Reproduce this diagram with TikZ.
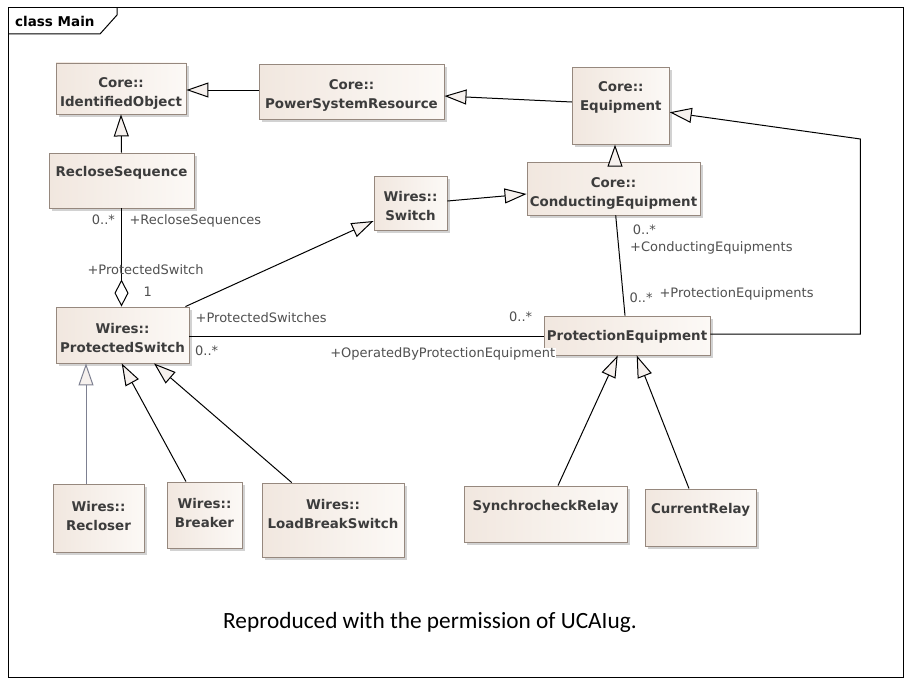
\documentclass[tikz,border=0pt]{standalone}
\usepackage{fontspec}
\setmainfont{DejaVu Sans}
\newfontfamily\capfont{Carlito}
\usetikzlibrary{arrows.meta,shadows,calc}
\definecolor{boxA}{RGB}{241,231,223}
\definecolor{boxB}{RGB}{252,249,246}
\definecolor{boxE}{RGB}{150,136,126}
\definecolor{txtC}{RGB}{60,60,60}
\definecolor{lblC}{RGB}{80,80,80}
\definecolor{triF}{RGB}{246,241,238}
\definecolor{greyL}{RGB}{125,128,145}
\tikzset{
 cls/.style={draw=boxE, line width=0.9pt, left color=boxA, right color=boxB,
   drop shadow={shadow xshift=2.5pt, shadow yshift=-2.5pt, fill=black!35, opacity=0.5}, inner sep=0},
 ctext/.style={font=\fontsize{13.4}{19}\selectfont\bfseries, text=txtC, align=center, inner sep=0},
 role/.style={font=\fontsize{13}{16}\selectfont, text=lblC, inner sep=0, anchor=west, text height=9.5pt, text depth=2.5pt},
 conn/.style={line width=1pt, draw=black},
 gen/.style={conn, -{Triangle[length=22pt,width=15pt,fill=triF,line width=1pt]}},
 geng/.style={line width=1pt, draw=greyL, -{Triangle[length=22pt,width=15pt,fill=triF,line width=1pt]}},
 agg/.style={conn, -{Diamond[length=27pt,width=14pt,fill=white,line width=1pt]}},
 frm/.style={line width=1pt, draw=black},
}
\begin{document}
\begin{tikzpicture}[x=1pt,y=-1pt]
\useasboundingbox[fill=white] (0,0) rectangle (912,685);
% frame
\node[frm, minimum width=895, minimum height=669, inner sep=0] (frame) at (455.5,342.5) {};
\draw[frm] (8,34) -- (100,34) -- (117,15) -- (117,8);
\node[font=\fontsize{13.5}{16}\selectfont\bfseries, anchor=west, inner sep=0] (title) at (15,21) {class Main};

% classes
\node[cls, minimum width=130, minimum height=51] (io) at (121,88.5) {};
\node[ctext] (io-t) at (121,93.5) {Core::\\IdentifiedObject};
\node[cls, minimum width=185, minimum height=55] (psr) at (351.5,91.5) {};
\node[ctext] (psr-t) at (351.5,95) {Core::\\PowerSystemResource};
\node[cls, minimum width=97, minimum height=77] (eq) at (620.8,105.7) {};
\node[ctext] (eq-t) at (620.8,97.8) {Core::\\Equipment};
\node[cls, minimum width=145, minimum height=55] (rs) at (121.5,180.5) {};
\node[ctext] (rs-t) at (121.5,173.3) {RecloseSequence};
\node[cls, minimum width=73, minimum height=54] (sw) at (410.5,203) {};
\node[ctext] (sw-t) at (410.5,206) {Wires::\\Switch};
\node[cls, minimum width=173, minimum height=53] (ce) at (613.5,188.5) {};
\node[ctext] (ce-t) at (613.5,193.5) {Core::\\ConductingEquipment};
\node[cls, minimum width=133, minimum height=56] (ps) at (122.5,335) {};
\node[ctext] (ps-t) at (122.5,337.5) {Wires::\\ProtectedSwitch};
\node[cls, minimum width=166, minimum height=39] (pe) at (627,335.5) {};
\node[ctext] (pe-t) at (627,337) {ProtectionEquipment};
\node[cls, minimum width=91, minimum height=68] (rec) at (98.5,518) {};
\node[ctext] (rec-t) at (98.5,515.5) {Wires::\\Recloser};
\node[cls, minimum width=75, minimum height=66] (br) at (204.5,515) {};
\node[ctext] (br-t) at (204.5,512.5) {Wires::\\Breaker};
\node[cls, minimum width=142, minimum height=74] (lbs) at (333,520) {};
\node[ctext] (lbs-t) at (333,513.5) {Wires::\\LoadBreakSwitch};
\node[cls, minimum width=163, minimum height=56] (scr) at (545.5,514) {};
\node[ctext] (scr-t) at (545.5,507) {SynchrocheckRelay};
\node[cls, minimum width=111, minimum height=57] (cr) at (700.5,517.5) {};
\node[ctext] (cr-t) at (700.5,510) {CurrentRelay};

% connectors
\draw[gen] ($(psr.west)+(0,-1.5)$) -- ($(io.east)+(0,1.5)$);
\draw[gen] ($(eq.west)+(0,-3.7)$) -- ($(psr.east)+(0,4.5)$);
\draw[gen] ($(ce.north)+(1.5,0)$) -- ($(eq.south)+(-5.8,0)$);
\draw[gen] ($(sw.east)+(0,-2)$) -- ($(ce.west)+(0,5.5)$);
\draw[gen] ($(ps.north east)+(-4,0)$) -- ($(sw.west)+(0,18)$);
\draw[gen] (rs.north) -- (io.south);
\draw[agg] (rs.south) -- (rs.south |- ps.north);
\draw[conn] ($(ps.east)+(0,1.5)$) -- ($(pe.west)+(0,1)$);
\draw[conn] ($(ce.south)+(2.2,0)$) -- ($(pe.north)+(-2,0)$);
\draw[gen] ($(pe.east)+(0,-1.5)$) -- ++(150,0) -- ++(0,-195) -- ($(eq.east)+(0,6.6)$);
\draw[geng] ($(rec.north)+(-12.5,0)$) -- ($(ps.south)+(-36.5,0)$);
\draw[gen] ($(br.north)+(-18.5,0)$) -- ($(ps.south)+(-0.8,0)$);
\draw[gen] ($(lbs.north)+(-41.3,0)$) -- ($(ps.south)+(31.5,0)$);
\draw[gen] ($(scr.north)+(12.5,0)$) -- ($(pe.south)+(-9.3,0)$);
\draw[gen] ($(cr.north)+(-11.5,0)$) -- ($(pe.south)+(9.7,0)$);

% role labels
\node[role] (l1) at (91.7,221) {0..*};
\node[role] (l2) at (129.3,221) {+RecloseSequences};
\node[role] (l3) at (87.3,270.7) {+ProtectedSwitch};
\node[role] (l4) at (143.3,293) {1};
\node[role] (l5) at (195.5,319) {+ProtectedSwitches};
\node[role] (l6) at (195,351.7) {0..*};
\node[role] (l7) at (509,317.5) {0..*};
\node[role, fill=white, anchor=east, inner xsep=0.5pt] (l8) at (556,354) {+OperatedByProtectionEquipment};
\node[role] (l9) at (632.7,231) {0..*};
\node[role] (l10) at (630,248) {+ConductingEquipments};
\node[role] (l11) at (629.3,299) {0..*};
\node[role] (l12) at (659.3,294) {+ProtectionEquipments};

% caption
\node[font=\capfont\fontsize{23.3}{28}\selectfont, anchor=west, inner sep=0] (cap) at (223,622) {Reproduced with the permission of UCAIug.};
\end{tikzpicture}
\end{document}
